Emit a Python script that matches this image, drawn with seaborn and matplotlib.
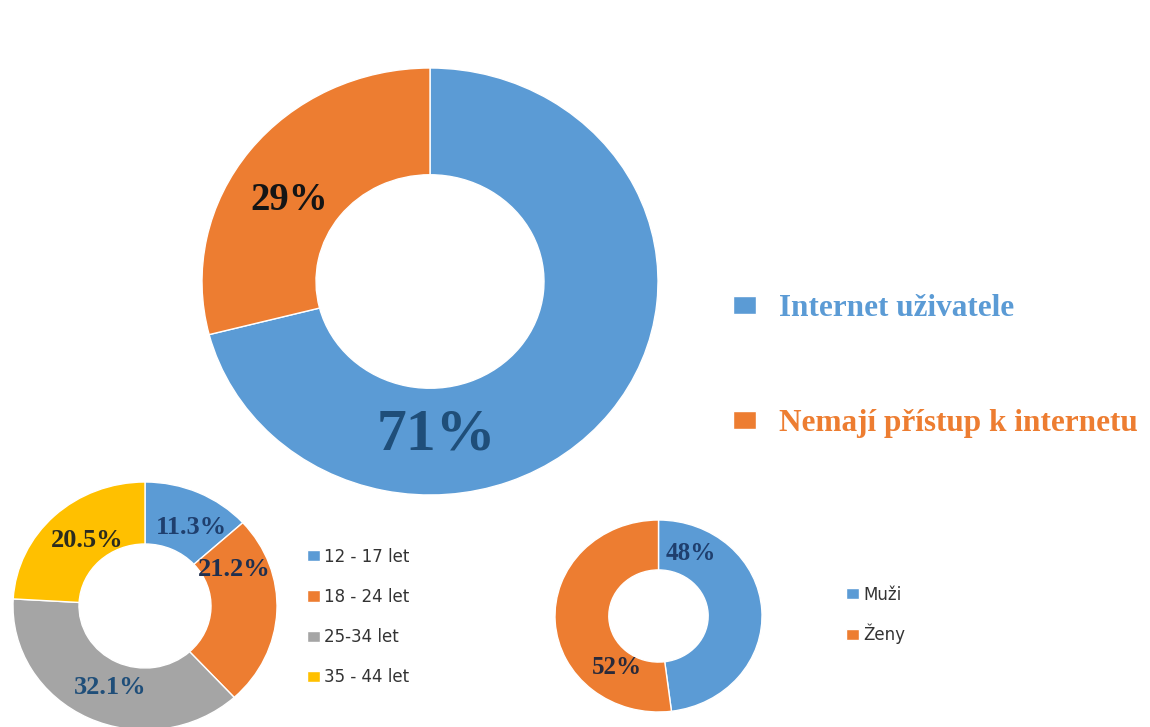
import matplotlib
matplotlib.use("Agg")
import matplotlib.pyplot as plt
import seaborn as sns

sns.set_theme(style="white")
plt.rcParams['font.family'] = ['DejaVu Sans']

# ---- data ----
main_labels = ["Internet uživatele", "Nemají přístup k internetu"]
main_values = [71, 29]

age_labels = ["12 - 17 let", "18 - 24 let", "25-34 let", "35 - 44 let"]
age_values = [11.3, 21.2, 32.1, 20.5]

sex_labels = ["Muži", "Ženy"]
sex_values = [48, 52]

BLUE, ORANGE, GRAY, YELLOW = "#5B9BD5", "#ED7D31", "#A5A5A5", "#FFC000"
main_colors = [BLUE, ORANGE]
age_colors = [BLUE, ORANGE, GRAY, YELLOW]
sex_colors = [BLUE, ORANGE]

W, H = 1150, 727
fig = plt.figure(figsize=(W / 100, H / 100), dpi=100)
fig.patch.set_facecolor("white")


def add_ax(left, top, right, bottom):
    return fig.add_axes([left / W, 1 - bottom / H, (right - left) / W, (bottom - top) / H])


def donut(ax, values, colors, width=0.5):
    wedges, _ = ax.pie(values, colors=colors, startangle=90, counterclock=False,
                       radius=1, wedgeprops=dict(width=width, edgecolor="white", linewidth=1))
    ax.set_xlim(-1, 1)
    ax.set_ylim(-1, 1)
    ax.set_aspect("auto")
    ax.axis("off")
    return wedges


serif = ["Liberation Serif", "DejaVu Serif"]

# main donut
ax1 = add_ax(202, 68, 658, 495)
w1 = donut(ax1, main_values, main_colors)
ax1.text((436 - 202) / 456, 1 - (435 - 68) / 427, f"{main_values[0]}%", transform=ax1.transAxes,
         ha="center", va="center", fontsize=43, fontweight="bold", family=serif, color="#1F4E79")
ax1.text((289 - 202) / 456, 1 - (201 - 68) / 427, f"{main_values[1]}%", transform=ax1.transAxes,
         ha="center", va="center", fontsize=28, fontweight="bold", family=serif, color="#151515")

fig.legend(w1, main_labels, loc="center left", bbox_to_anchor=(733 / W, 1 - 366 / H),
           frameon=False, borderpad=0, borderaxespad=0, handlelength=0.72, handleheight=0.55,
           handletextpad=0.75, labelspacing=2.75,
           prop=dict(family=serif, weight="bold", size=22.5), labelcolor=main_colors)

# age donut
ax2 = add_ax(13, 482, 277, 730)
w2 = donut(ax2, age_values, age_colors)
age_pos = [(191, 527), (234, 569), (110, 687), (87, 540)]
age_tcol = ["#1F3F6E", "#1F2F4F", "#1F4E79", "#2B2B1E"]
for v, (px, py), c in zip(age_values, age_pos, age_tcol):
    ax2.text((px - 13) / 264, 1 - (py - 482) / 248, f"{v}%", transform=ax2.transAxes,
             ha="center", va="center", fontsize=19, fontweight="bold", family=serif, color=c)

fig.legend(w2, age_labels, loc="center left", bbox_to_anchor=(307 / W, 1 - 617 / H),
           frameon=False, borderpad=0, borderaxespad=0, handlelength=0.75, handleheight=0.65,
           handletextpad=0.3, labelspacing=1.34,
           prop=dict(family="DejaVu Sans", size=12), labelcolor="#333333")

# sex donut
ax3 = add_ax(555, 520, 762, 712)
w3 = donut(ax3, sex_values, sex_colors, width=0.52)
sex_pos = [(691, 554), (617, 667)]
sex_tcol = ["#1F3F6E", "#2A2A3A"]
for v, (px, py), c in zip(sex_values, sex_pos, sex_tcol):
    ax3.text((px - 555) / 207, 1 - (py - 520) / 192, f"{v}%", transform=ax3.transAxes,
             ha="center", va="center", fontsize=18, fontweight="bold", family=serif, color=c)

fig.legend(w3, sex_labels, loc="center left", bbox_to_anchor=(846 / W, 1 - 615 / H),
           frameon=False, borderpad=0, borderaxespad=0, handlelength=0.75, handleheight=0.65,
           handletextpad=0.3, labelspacing=1.22,
           prop=dict(family="DejaVu Sans", size=12), labelcolor="#333333")

fig.savefig("out.png", dpi=100, facecolor="white")
